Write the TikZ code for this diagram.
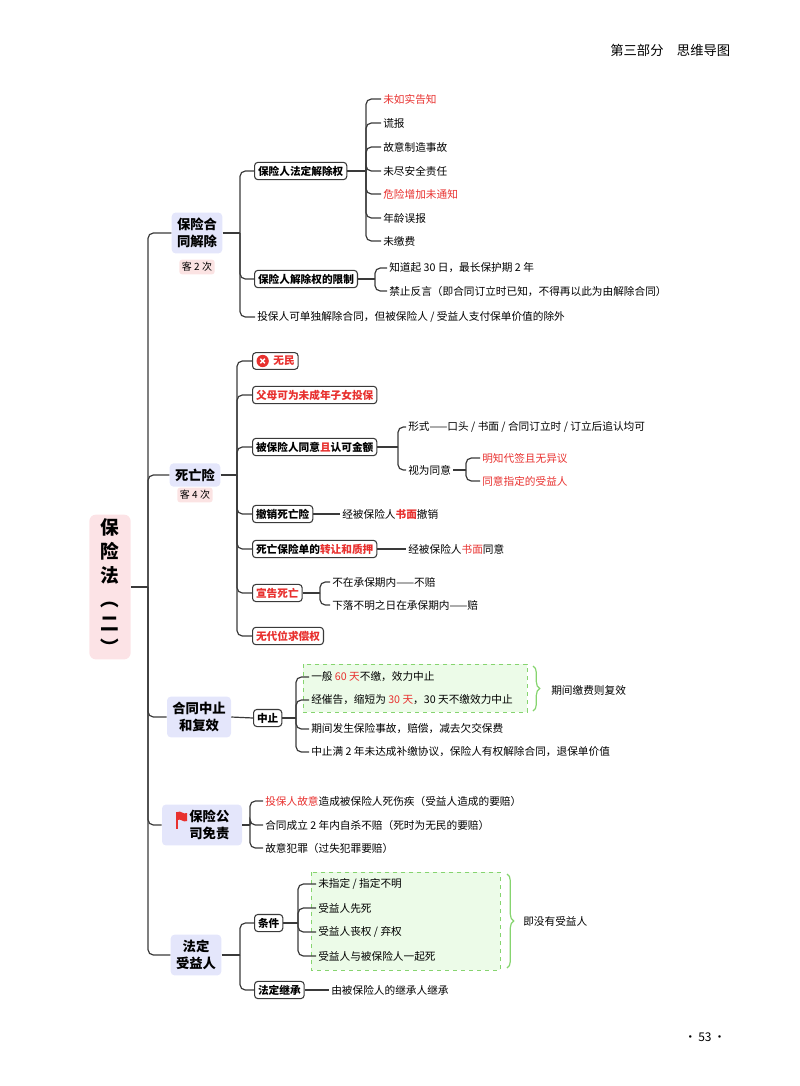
\documentclass[tikz,border=0pt]{standalone}
\usepackage{fontspec}
\setmainfont{Noto Sans CJK SC}
\usetikzlibrary{decorations.pathreplacing}
\definecolor{accent}{HTML}{E8312F}
\definecolor{lavender}{HTML}{E4E6FB}
\definecolor{tagpink}{HTML}{FBE3E3}
\definecolor{rootpink}{HTML}{FCE3E6}
\definecolor{linegray}{HTML}{3A3A3A}
\definecolor{greenfill}{HTML}{ECFBE8}
\definecolor{greenline}{HTML}{86D46F}
\newcommand\redtxt[1]{\textcolor{accent}{#1}}
\tikzset{
  conn/.style={draw=linegray, line width=0.9pt, rounded corners=4},
  topic/.style={fill=lavender, rounded corners=3pt, font=\fontsize{10}{13}\selectfont\bfseries, align=center, inner sep=4pt},
  tagbox/.style={fill=tagpink, rounded corners=2pt, font=\fontsize{7.5}{9}\selectfont, inner sep=2pt},
  subbox/.style={draw=linegray, line width=0.8pt, fill=white, rounded corners=2.5pt, font=\fontsize{8}{10}\selectfont\bfseries, inner sep=2.6pt, anchor=west},
  leaf/.style={font=\fontsize{8}{10}\selectfont, inner sep=1.5pt, anchor=west},
  greenbox/.style={draw=greenline, dashed, fill=greenfill, line width=0.7pt},
  greenbrace/.style={draw=greenline, line width=0.9pt, decorate, decoration={brace, amplitude=5pt}}
}
\begin{document}
\begin{tikzpicture}[x=0.75pt, y=-0.75pt]
\useasboundingbox (0,0) rectangle (800,1086);

% header and page number
\node[anchor=east, font=\fontsize{10}{12}\selectfont] (header) at (735,50) {第三部分\quad 思维导图};
\node[font=\fontsize{9}{11}\selectfont] (pagenum) at (705,1037) {·\,53\,·};

% green backgrounds
\fill[greenbox] (303,664) rectangle (527,712);
\fill[greenbox] (311,872) rectangle (500,970);
\draw[greenline, dashed, line width=0.7pt] (303,664) rectangle (527,712);
\draw[greenline, dashed, line width=0.7pt] (311,872) rectangle (500,970);

% root
\node[fill=rootpink, rounded corners=5pt, minimum width=31pt, minimum height=94pt, font=\fontsize{14}{18}\selectfont\bfseries, align=center] (root) at (110,587) {保\\险\\法\\︵\\二\\︶};
\coordinate (spine) at (148,587);
\draw[conn] (root.east) -- (spine);

% level one
\node[topic] (cancel) at (197,233) {保险合\\同解除};
\node[tagbox] (cancelTag) at (197,267) {客 2 次};
\node[topic] (death) at (195,475) {死亡险};
\node[tagbox] (deathTag) at (195,495) {客 4 次};
\node[topic] (pause) at (199,717) {合同中止\\和复效};
\node[topic, text width=52pt] (exempt) at (202,825) {\hspace*{11pt}保险公\\\hspace*{11pt}司免责};
\node[topic] (heir) at (196,955) {法定\\受益人};
\foreach \t in {cancel,death,pause,exempt,heir}
  \draw[conn] (spine) |- (\t.west);

% flag on exempt
\fill[accent] (176,812) rectangle (177.5,829);
\fill[accent] (177.5,812) .. controls (181,810) and (183,815) .. (187,813) -- (187,821) .. controls (183,823) and (181,818) .. (177.5,820) -- cycle;

% ---- 保险合同解除
\coordinate (s1) at (240,233);
\draw[conn] (cancel.east) -- (s1);
\node[subbox] (statRight) at (254,171) {保险人法定解除权};
\node[subbox] (limitRight) at (254,279) {保险人解除权的限制};
\node[leaf] (holderRight) at (255,317) {投保人可单独解除合同，但被保险人 / 受益人支付保单价值的除外};
\foreach \t in {statRight,limitRight,holderRight}
  \draw[conn] (s1) |- (\t.west);

\coordinate (s11) at (366,171);
\draw[conn] (statRight.east) -- (s11);
\node[leaf] (r1) at (381,99) {\redtxt{未如实告知}};
\node[leaf] (r2) at (381,123) {谎报};
\node[leaf] (r3) at (381,147) {故意制造事故};
\node[leaf] (r4) at (381,171) {未尽安全责任};
\node[leaf] (r5) at (381,194) {\redtxt{危险增加未通知}};
\node[leaf] (r6) at (381,218) {年龄误报};
\node[leaf] (r7) at (381,241) {未缴费};
\foreach \t in {r1,r2,r3,r4,r5,r6,r7}
  \draw[conn] (s11) |- (\t.west);

\coordinate (s12) at (375,279);
\draw[conn] (limitRight.east) -- (s12);
\node[leaf] (l1) at (387,268) {知道起 30 日，最长保护期 2 年};
\node[leaf] (l2) at (387,291) {禁止反言（即合同订立时已知，不得再以此为由解除合同）};
\foreach \t in {l1,l2}
  \draw[conn] (s12) |- (\t.west);

% ---- 死亡险
\coordinate (s2) at (237,475);
\draw[conn] (death.east) -- (s2);
\node[subbox, text=accent] (noCiv) at (252,361) {\hspace*{13pt}无民};
\fill[accent] ([xshift=8pt]noCiv.west) circle (4.6pt);
\draw[white, line width=1.1pt] ([xshift=6.3pt, yshift=1.7pt]noCiv.west) -- ([xshift=9.7pt, yshift=-1.7pt]noCiv.west)
  ([xshift=6.3pt, yshift=-1.7pt]noCiv.west) -- ([xshift=9.7pt, yshift=1.7pt]noCiv.west);
\node[subbox, text=accent] (parents) at (252,395) {父母可为未成年子女投保};
\node[subbox] (consent) at (252,447) {被保险人同意\redtxt{且}认可金额};
\node[subbox] (revoke) at (252,514) {撤销死亡险};
\node[subbox] (transfer) at (252,549) {死亡保险单的\redtxt{转让和质押}};
\node[subbox, text=accent] (declare) at (252,593) {宣告死亡};
\node[subbox, text=accent] (subrog) at (252,636) {无代位求偿权};
\foreach \t in {noCiv,parents,consent,revoke,transfer,declare,subrog}
  \draw[conn] (s2) |- (\t.west);

\coordinate (s21) at (398,447);
\draw[conn] (consent.east) -- (s21);
\node[leaf] (form) at (406,427) {形式——口头 / 书面 / 合同订立时 / 订立后追认均可};
\node[leaf] (deemed) at (406,470) {视为同意};
\foreach \t in {form,deemed}
  \draw[conn] (s21) |- (\t.west);
\coordinate (s22) at (466,470);
\draw[conn] (deemed.east) -- (s22);
\node[leaf] (d1) at (480,458) {\redtxt{明知代签且无异议}};
\node[leaf] (d2) at (480,481) {\redtxt{同意指定的受益人}};
\foreach \t in {d1,d2}
  \draw[conn] (s22) |- (\t.west);

\node[leaf] (revokeTxt) at (340,514) {经被保险人\textbf{\redtxt{书面}}撤销};
\draw[conn] (revoke.east) -- (revokeTxt.west);
\node[leaf] (transferTxt) at (406,549) {经被保险人\redtxt{书面}同意};
\draw[conn] (transfer.east) -- (transferTxt.west);

\coordinate (s23) at (320,593);
\draw[conn] (declare.east) -- (s23);
\node[leaf] (dc1) at (330,582) {不在承保期内——不赔};
\node[leaf] (dc2) at (330,605) {下落不明之日在承保期内——赔};
\foreach \t in {dc1,dc2}
  \draw[conn] (s23) |- (\t.west);

% ---- 合同中止和复效
\node[subbox] (halt) at (253,718) {中止};
\draw[conn] (pause.east) -- (halt.west);
\coordinate (s3) at (296,718);
\draw[conn] (halt.east) -- (s3);
\node[leaf] (h1) at (309,677) {一般 \redtxt{60 天}不缴，效力中止};
\node[leaf] (h2) at (309,700) {经催告，缩短为 \redtxt{30 天}，30 天不缴效力中止};
\node[leaf] (h3) at (309,729) {期间发生保险事故，赔偿，减去欠交保费};
\node[leaf] (h4) at (309,752) {中止满 2 年未达成补缴协议，保险人有权解除合同，退保单价值};
\foreach \t in {h1,h2,h3,h4}
  \draw[conn] (s3) |- (\t.west);
\draw[greenbrace] (533,666) -- (533,711);
\node[leaf] (revive) at (549,690) {期间缴费则复效};

% ---- 保险公司免责
\coordinate (s4) at (250,825);
\draw[conn] (exempt.east) -- (s4);
\node[leaf] (e1) at (263,801) {\redtxt{投保人故意}造成被保险人死伤疾（受益人造成的要赔）};
\node[leaf] (e2) at (263,825) {合同成立 2 年内自杀不赔（死时为无民的要赔）};
\node[leaf] (e3) at (263,848) {故意犯罪（过失犯罪要赔）};
\foreach \t in {e1,e2,e3}
  \draw[conn] (s4) |- (\t.west);

% ---- 法定受益人
\coordinate (s5) at (240,955);
\draw[conn] (heir.east) -- (s5);
\node[subbox] (cond) at (254,923) {条件};
\node[subbox] (inherit) at (254,990) {法定继承};
\foreach \t in {cond,inherit}
  \draw[conn] (s5) |- (\t.west);
\coordinate (s51) at (298,923);
\draw[conn] (cond.east) -- (s51);
\node[leaf] (c1) at (316,884) {未指定 / 指定不明};
\node[leaf] (c2) at (316,908) {受益人先死};
\node[leaf] (c3) at (316,932) {受益人丧权 / 弃权};
\node[leaf] (c4) at (316,956) {受益人与被保险人一起死};
\foreach \t in {c1,c2,c3,c4}
  \draw[conn] (s51) |- (\t.west);
\draw[greenbrace] (507,874) -- (507,968);
\node[leaf] (noBenef) at (521,921) {即没有受益人};
\node[leaf] (inheritTxt) at (329,990) {由被保险人的继承人继承};
\draw[conn] (inherit.east) -- (inheritTxt.west);
\end{tikzpicture}
\end{document}
